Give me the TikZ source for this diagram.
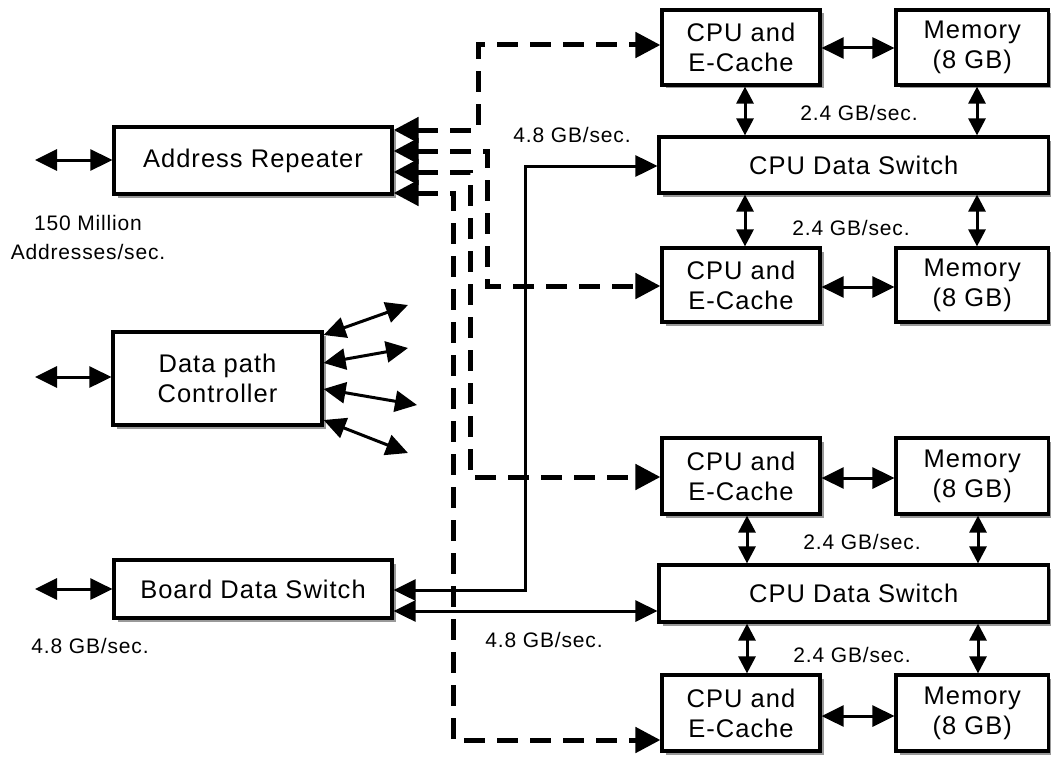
\documentclass[tikz,border=0pt]{standalone}
\usepackage{fontspec}
\setmainfont{Liberation Sans}[LetterSpace=4]
\usetikzlibrary{arrows.meta,shadows}
\newcommand{\boxfont}{\fontsize{25.5}{30}\selectfont}
\newcommand{\lblfont}{\fontsize{21}{29}\selectfont}
\begin{document}
\begin{tikzpicture}[x=1pt,y=-1pt,
  box/.style={draw, line width=3.2pt, fill=white, inner sep=0pt, align=center, font=\boxfont,
    drop shadow={shadow xshift=3.5pt, shadow yshift=-3.5pt, fill=black!40, opacity=1}},
  lbl/.style={font=\lblfont, inner sep=0pt, align=center},
  conn/.style={line width=3pt, {Triangle[length=22pt,width=21pt]}-{Triangle[length=22pt,width=21pt]}},
  vconn/.style={line width=3pt, {Triangle[length=17pt,width=17pt]}-{Triangle[length=17pt,width=17pt]}},
  dconn/.style={line width=5pt, dash pattern=on 21pt off 12pt, {Triangle[length=25pt,width=25pt]}-{Triangle[length=25pt,width=25pt]}},
]
\useasboundingbox (0,0) rectangle (1051,757);

% left column
\node[box, minimum width=278pt, minimum height=67pt] (AR) at (253,160.5) {Address Repeater};
\node[box, minimum width=209pt, minimum height=93pt] (DPC) at (217.5,378.5) {Data path\\Controller};
\node[box, minimum width=278pt, minimum height=58pt] (BDS) at (253,589) {Board Data Switch};

% right column, upper group
\node[box, minimum width=158pt, minimum height=75pt] (CPU1) at (741,47.5) {CPU and\\E-Cache};
\node[box, minimum width=152.5pt, minimum height=75pt] (MEM1) at (972.25,47.5) {Memory\\(8 GB)};
\node[box, minimum width=389.5pt, minimum height=56pt] (CDS1) at (853.75,165) {CPU Data Switch};
\node[box, minimum width=158pt, minimum height=74pt] (CPU2) at (741,285) {CPU and\\E-Cache};
\node[box, minimum width=152.5pt, minimum height=74pt] (MEM2) at (972.25,285) {Memory\\(8 GB)};

% right column, lower group
\node[box, minimum width=158pt, minimum height=76pt] (CPU3) at (741,476) {CPU and\\E-Cache};
\node[box, minimum width=152.5pt, minimum height=76pt] (MEM3) at (972.25,476) {Memory\\(8 GB)};
\node[box, minimum width=389.5pt, minimum height=57pt] (CDS2) at (853.75,593.5) {CPU Data Switch};
\node[box, minimum width=158pt, minimum height=76pt] (CPU4) at (741,713) {CPU and\\E-Cache};
\node[box, minimum width=152.5pt, minimum height=76pt] (MEM4) at (972.25,713) {Memory\\(8 GB)};

% free ends on the left
\coordinate (inAR) at (35,160);
\coordinate (inDPC) at (35,377);
\coordinate (inBDS) at (35,589);
\draw[conn] (inAR) -- (AR.west |- inAR);
\draw[conn] (inDPC) -- (DPC.west |- inDPC);
\draw[conn] (inBDS) -- (BDS.west |- inBDS);

% labels
\node[lbl] (l150) at (88,237.5) {150 Million\\Addresses/sec.};
\node[lbl] (lbds) at (90,646) {4.8 GB/sec.};
\node[lbl] (l48a) at (572,135) {4.8 GB/sec.};
\node[lbl] (l48b) at (544,640) {4.8 GB/sec.};
\node[lbl] (l24a) at (859,113) {2.4 GB/sec.};
\node[lbl] (l24b) at (851,228) {2.4 GB/sec.};
\node[lbl] (l24c) at (862,542) {2.4 GB/sec.};
\node[lbl] (l24d) at (852,655) {2.4 GB/sec.};

% data path controller fan-out
\coordinate (d1) at (408,305);
\coordinate (d2) at (408,348);
\coordinate (d3) at (417,405);
\coordinate (d4) at (408,453);
\draw[conn] (DPC.east |- 0,335) -- (d1);
\draw[conn] (DPC.east |- 0,363) -- (d2);
\draw[conn] (DPC.east |- 0,389) -- (d3);
\draw[conn] (DPC.east |- 0,420) -- (d4);

% dashed address lines
\draw[dconn] (AR.east |- 0,130) -| (478,45) -- (CPU1.west |- 0,45);
\draw[dconn] (AR.east |- 0,151) -| (487,286) -- (CPU2.west |- 0,286);
\draw[dconn] (AR.east |- 0,172) -| (470,477) -- (CPU3.west |- 0,477);
\draw[dconn] (AR.east |- 0,193) -| (453,740) -- (CPU4.west |- 0,740);

% board data switch to CPU data switches
\draw[conn] (BDS.east |- 0,590) -| (525,166) -- (CDS1.west |- 0,166);
\draw[conn] (BDS.east |- 0,611) -- (CDS2.west |- 0,611);

% CPU <-> memory
\draw[conn] (CPU1.east |- 0,48) -- (MEM1.west |- 0,48);
\draw[conn] (CPU2.east |- 0,287) -- (MEM2.west |- 0,287);
\draw[conn] (CPU3.east |- 0,478) -- (MEM3.west |- 0,478);
\draw[conn] (CPU4.east |- 0,716) -- (MEM4.west |- 0,716);

% vertical links
\draw[vconn] (CPU1.south -| 745,0) -- (CDS1.north -| 745,0);
\draw[vconn] (MEM1.south -| 977,0) -- (CDS1.north -| 977,0);
\draw[vconn] (CDS1.south -| 745,0) -- (CPU2.north -| 745,0);
\draw[vconn] (CDS1.south -| 977,0) -- (MEM2.north -| 977,0);
\draw[vconn] (CPU3.south -| 747,0) -- (CDS2.north -| 747,0);
\draw[vconn] (MEM3.south -| 978,0) -- (CDS2.north -| 978,0);
\draw[vconn] (CDS2.south -| 747,0) -- (CPU4.north -| 747,0);
\draw[vconn] (CDS2.south -| 978,0) -- (MEM4.north -| 978,0);
\end{tikzpicture}
\end{document}
